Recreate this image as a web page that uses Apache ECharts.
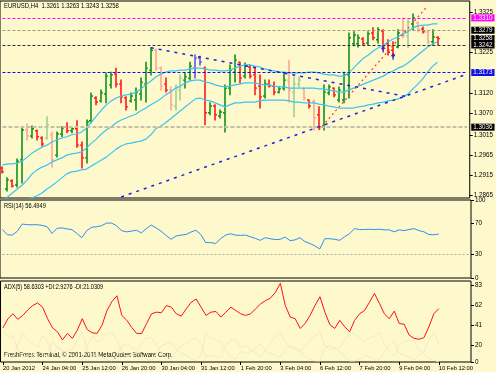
<!DOCTYPE html>
<html>
<head>
<meta charset="utf-8">
<script src="https://cdn.jsdelivr.net/npm/echarts@6/dist/echarts.min.js"></script>
<style>
html,body{margin:0;padding:0;background:#fdf9cd;}
#c{width:496px;height:372px;}
</style>
</head>
<body>
<div id="c"></div>
<script>
// ---- x axis ----
const tickLabels = ['20 Jan 2012','24 Jan 04:00','25 Jan 12:00','26 Jan 20:00','30 Jan 04:00','31 Jan 12:00',
  '1 Feb 20:00','3 Feb 04:00','6 Feb 12:00','7 Feb 20:00','9 Feb 04:00','10 Feb 12:00'];
const labelStep = 8;
const barSlots = 95; // 89 bars + right shift

// ---- EURUSD H4 OHLC ----
const open = [1.2934,1.2881,1.2901,1.2891,1.2954,1.3029,1.3014,1.3027,1.3009,1.3009,
1.3017,1.2966,1.3019,1.3037,1.3027,1.3032,1.2991,1.2959,1.3052,1.3109,
1.3102,1.3119,1.3142,1.3169,1.3144,1.3109,1.3102,1.3104,1.3119,1.3144,
1.3179,1.3229,1.3184,1.3144,1.3129,1.3089,1.3129,1.3154,1.3159,1.3184,
1.3209,1.3184,1.3072,1.3089,1.3064,1.3072,1.3134,1.3174,1.3199,1.3164,
1.3187,1.3167,1.3139,1.3114,1.3144,1.3139,1.3124,1.3134,1.3154,1.3124,
1.3144,1.3132,1.3104,1.3099,1.3067,1.3037,1.3122,1.3134,1.3104,1.3104,
1.3167,1.3245,1.3245,1.3257,1.3247,1.3272,1.3255,1.3277,1.3245,1.3229,
1.3237,1.3280,1.3265,1.3295,1.3297,1.3282,1.3275,1.3250,1.3261];
const high = [1.2936,1.2909,1.2904,1.2956,1.3034,1.3044,1.3039,1.3029,1.3012,1.3062,
1.3024,1.3024,1.3037,1.3047,1.3034,1.3052,1.2999,1.3054,1.3122,1.3112,
1.3129,1.3172,1.3174,1.3184,1.3154,1.3112,1.3122,1.3134,1.3159,1.3199,
1.3235,1.3232,1.3187,1.3159,1.3137,1.3142,1.3167,1.3172,1.3199,1.3217,
1.3214,1.3187,1.3097,1.3092,1.3079,1.3142,1.3192,1.3217,1.3199,1.3197,
1.3192,1.3187,1.3167,1.3154,1.3154,1.3149,1.3137,1.3172,1.3204,1.3162,
1.3162,1.3134,1.3104,1.3104,1.3087,1.3142,1.3142,1.3134,1.3137,1.3174,
1.3272,1.3275,1.3267,1.3260,1.3275,1.3285,1.3285,1.3280,1.3255,1.3250,
1.3280,1.3310,1.3305,1.3320,1.3300,1.3287,1.3277,1.3280,1.3263];
const low = [1.2921,1.2876,1.2886,1.2886,1.2896,1.3004,1.3009,1.3004,1.2989,1.3006,
1.2936,1.2961,1.3012,1.3022,1.3022,1.2986,1.2934,1.2946,1.3047,1.3092,
1.3099,1.3097,1.3134,1.3137,1.3097,1.3079,1.3099,1.3079,1.3104,1.3099,
1.3167,1.3179,1.3129,1.3124,1.3079,1.3079,1.3104,1.3134,1.3154,1.3159,
1.3192,1.3042,1.3067,1.3054,1.3059,1.3024,1.3117,1.3149,1.3147,1.3159,
1.3159,1.3117,1.3084,1.3109,1.3137,1.3117,1.3122,1.3129,1.3099,1.3062,
1.3137,1.3104,1.3084,1.3029,1.3032,1.3029,1.3117,1.3112,1.3099,1.3097,
1.3109,1.3240,1.3237,1.3242,1.3242,1.3255,1.3247,1.3229,1.3217,1.3212,
1.3235,1.3260,1.3235,1.3280,1.3275,1.3272,1.3245,1.3242,1.3243];
const close = [1.2924,1.2904,1.2889,1.2951,1.3029,1.3014,1.3032,1.3012,1.2994,1.3042,
1.2954,1.3019,1.3034,1.3027,1.3032,1.2991,1.2959,1.3049,1.3114,1.3099,
1.3122,1.3164,1.3167,1.3144,1.3112,1.3087,1.3114,1.3124,1.3149,1.3184,
1.3229,1.3184,1.3139,1.3129,1.3092,1.3134,1.3159,1.3162,1.3189,1.3209,
1.3199,1.3072,1.3089,1.3067,1.3074,1.3134,1.3179,1.3204,1.3159,1.3189,
1.3164,1.3134,1.3112,1.3144,1.3139,1.3124,1.3132,1.3154,1.3129,1.3144,
1.3154,1.3109,1.3089,1.3059,1.3037,1.3124,1.3137,1.3117,1.3129,1.3167,
1.3260,1.3267,1.3260,1.3245,1.3270,1.3260,1.3280,1.3240,1.3224,1.3217,
1.3272,1.3265,1.3300,1.3310,1.3280,1.3275,1.3250,1.3262,1.3258];

// bars drawn in pale / blue colour in the terminal (style lists, by bar index)
const paleBars = [5, 9, 10, 31, 32, 34, 35, 36, 58, 59, 60, 61, 63, 81, 82, 84, 86];
const blueBars = [39, 40];

// ---- bands (upper / middle / lower) ----
const bandUpper = [1.2941,1.2944,1.2944,1.2946,1.2951,1.2961,1.2971,1.2979,1.2986,1.2991,
1.2999,1.3004,1.3009,1.3012,1.3017,1.3019,1.3024,1.3034,1.3049,1.3064,
1.3079,1.3092,1.3102,1.3109,1.3114,1.3117,1.3119,1.3124,1.3132,1.3142,
1.3152,1.3162,1.3169,1.3174,1.3177,1.3177,1.3179,1.3179,1.3182,1.3184,
1.3184,1.3182,1.3179,1.3179,1.3177,1.3177,1.3179,1.3184,1.3189,1.3192,
1.3192,1.3189,1.3187,1.3182,1.3179,1.3177,1.3174,1.3174,1.3172,1.3172,
1.3172,1.3172,1.3174,1.3174,1.3172,1.3169,1.3167,1.3167,1.3164,1.3164,
1.3172,1.3184,1.3197,1.3209,1.3217,1.3227,1.3235,1.3242,1.3250,1.3257,
1.3262,1.3270,1.3275,1.3285,1.3290,1.3292,1.3292,1.3295,1.3295];
const bandMiddle = [1.2851,1.2861,1.2871,1.2881,1.2891,1.2904,1.2919,1.2929,1.2936,1.2941,
1.2949,1.2954,1.2959,1.2966,1.2969,1.2971,1.2974,1.2984,1.2996,1.3006,
1.3019,1.3029,1.3037,1.3047,1.3054,1.3059,1.3064,1.3069,1.3077,1.3084,
1.3092,1.3099,1.3107,1.3117,1.3124,1.3134,1.3139,1.3147,1.3152,1.3154,
1.3154,1.3149,1.3147,1.3142,1.3139,1.3137,1.3139,1.3142,1.3144,1.3147,
1.3147,1.3147,1.3144,1.3142,1.3142,1.3139,1.3137,1.3137,1.3134,1.3134,
1.3134,1.3134,1.3134,1.3134,1.3132,1.3132,1.3129,1.3127,1.3124,1.3124,
1.3129,1.3134,1.3139,1.3144,1.3149,1.3154,1.3159,1.3164,1.3172,1.3177,
1.3184,1.3189,1.3197,1.3207,1.3217,1.3227,1.3237,1.3245,1.3250];
const bandLower = [1.2816,1.2826,1.2836,1.2844,1.2849,1.2854,1.2859,1.2864,1.2871,1.2881,
1.2889,1.2899,1.2909,1.2919,1.2924,1.2926,1.2929,1.2931,1.2939,1.2946,
1.2954,1.2961,1.2971,1.2981,1.2989,1.2994,1.2996,1.2999,1.3001,1.3006,
1.3017,1.3032,1.3039,1.3047,1.3057,1.3067,1.3077,1.3087,1.3097,1.3107,
1.3109,1.3104,1.3102,1.3097,1.3092,1.3087,1.3092,1.3097,1.3097,1.3099,
1.3099,1.3099,1.3102,1.3104,1.3104,1.3104,1.3104,1.3104,1.3102,1.3099,
1.3099,1.3097,1.3097,1.3097,1.3094,1.3092,1.3089,1.3087,1.3084,1.3084,
1.3084,1.3084,1.3087,1.3089,1.3092,1.3094,1.3097,1.3099,1.3102,1.3104,
1.3107,1.3112,1.3119,1.3132,1.3144,1.3157,1.3174,1.3189,1.3199];

// ---- horizontal levels, trend lines and arrows (bar index, price) ----
const levelMagenta = 1.3310;
const levelGrayTop = 1.3279;
const levelBid = 1.3258;
const levelBlack = 1.3242;
const levelBlue = 1.3173;
const levelGrayLow = 1.3036;
const trendUp = [[24, 1.2861], [94, 1.3169]];
const trendDown = [[30, 1.3235], [82, 1.3112]];
const trendRed = [[64, 1.3029], [86, 1.3340]];
const arrowMarks = [[77, 1.3232], [79, 1.3214]];
const priceTicks = [1.2865, 1.2915, 1.2965, 1.3015, 1.3070, 1.3120, 1.3225, 1.3325];

// ---- RSI(14) ----
const rsi = [62.1,55.4,55.0,60.0,69.2,68.3,68.3,68.3,67.5,65.8,
57.1,63.8,64.2,62.9,62.1,57.1,51.7,60.8,65.0,65.8,
67.1,70.4,70.4,67.1,60.8,59.2,60.0,61.3,57.9,63.3,
67.9,64.2,60.0,54.6,49.6,53.8,55.0,55.8,58.8,61.3,
55.8,45.4,45.4,44.2,50.4,55.0,56.7,55.0,54.6,55.0,
52.9,50.8,48.3,51.7,50.4,49.2,49.6,52.5,47.9,48.8,
51.7,46.7,44.2,41.3,37.1,50.4,50.4,49.6,48.3,52.9,
56.7,63.3,62.1,62.1,62.5,62.1,62.5,61.7,61.7,59.2,
61.7,60.8,62.1,63.3,60.8,59.2,55.8,55.4,56.5];
const rsiTicks = [0, 30, 70, 100];

// ---- ADX(5), +DI, -DI ----
const adx = [38.5,48.1,53.2,47.4,51.5,57.3,61.8,64.5,60.1,48.1,
38.5,34.4,25.9,32.7,27.6,36.1,48.1,36.8,33.4,32.7,
41.3,56.6,65.9,72.0,51.5,46.4,38.9,32.7,32.7,43.0,
53.2,54.9,54.3,61.8,60.1,53.2,50.8,58.4,65.2,68.6,
60.1,51.5,54.9,55.6,49.8,54.9,60.1,56.6,53.2,51.5,
53.2,58.4,63.5,66.9,69.6,75.5,85.0,61.8,49.8,48.1,
37.9,43.0,51.5,61.8,71.0,54.9,41.9,37.9,46.4,39.6,
34.4,46.4,53.2,56.6,65.2,74.4,64.2,53.2,48.1,56.0,
43.0,42.3,31.0,27.6,26.6,28.3,39.6,53.2,58.6];
const plusDI = [8,12,6,22,34,26,22,18,30,24,
10,18,16,12,10,8,5,20,30,24,
26,32,34,26,14,8,10,14,22,28,
28,20,12,8,6,14,20,22,26,28,
22,8,10,8,8,20,26,26,18,20,
16,12,8,16,22,30,34,24,18,16,
14,8,6,4,4,18,20,16,18,26,
34,32,28,24,28,30,34,22,14,10,
20,24,26,25,16,12,6,5,2.93];
const minusDI = [34,30,30,16,8,10,10,14,12,8,
25,18,14,14,16,26,34,16,8,10,
8,5,4,10,20,22,18,16,10,6,
4,12,20,22,24,16,12,10,6,4,
10,34,28,26,24,14,8,6,14,12,
14,18,22,14,12,10,8,16,20,18,
14,20,26,30,34,20,16,18,14,8,
4,4,6,10,8,6,5,14,20,24,
12,10,8,5,10,14,26,34,21.03];
const adxTicks = [2.9, 20, 41, 62, 83];

// ---------------------------------------------------------------
const FONT = '"Liberation Sans",Arial,sans-serif';
const cats = [];
for (let i = 0; i < barSlots; i++) cats.push(String(i));
const lastSlot = barSlots - 1;
const showTick = (idx) => idx % labelStep === 0 && idx / labelStep < tickLabels.length;

const ohlcData = open.map((o, i) => [i, o, high[i], low[i], close[i]]);

function barColor(i, up) {
  if (blueBars.indexOf(i) >= 0) return '#5a5ae6';
  if (paleBars.indexOf(i) >= 0) return up ? '#9fd28a' : '#f7a898';
  return up ? '#12901a' : '#ff1a1a';
}

function renderOHLC(params, api) {
  const i = api.value(0);
  const o = api.coord([i, api.value(1)]);
  const h = api.coord([i, api.value(2)]);
  const l = api.coord([i, api.value(3)]);
  const c = api.coord([i, api.value(4)]);
  const x = Math.round(o[0]);
  const col = barColor(i, api.value(4) >= api.value(1));
  return {
    type: 'group',
    children: [
      {type: 'line', shape: {x1: x, y1: h[1] - 0.5, x2: x, y2: l[1] + 0.5}, style: {stroke: col, lineWidth: 1.6}},
      {type: 'line', shape: {x1: x - 2, y1: o[1], x2: x, y2: o[1]}, style: {stroke: col, lineWidth: 1.4}},
      {type: 'line', shape: {x1: x, y1: c[1], x2: x + 2, y2: c[1]}, style: {stroke: col, lineWidth: 1.4}}
    ]
  };
}

function xAxisDef(gridIndex, showLabels) {
  return {
    type: 'category', gridIndex, data: cats, boundaryGap: true,
    axisLine: {show: false},
    axisTick: {show: showLabels, interval: (idx) => showTick(idx), alignWithLabel: true, length: 3,
      lineStyle: {color: '#000'}},
    axisLabel: {show: showLabels, interval: (idx) => showTick(idx), align: 'left', margin: 3,
      fontSize: 5.8, fontFamily: FONT, color: '#000',
      formatter: (v, idx) => tickLabels[idx / labelStep] || ''},
    splitLine: {show: false}
  };
}

function yAxisDef(gridIndex, min, max, ticks, fmt) {
  return {
    type: 'value', gridIndex, position: 'right', min, max,
    axisLine: {show: false},
    axisTick: {show: true, customValues: ticks, length: 3, inside: false, lineStyle: {color: '#000'}},
    axisLabel: {show: true, customValues: ticks, formatter: fmt, margin: 4, fontSize: 6.3,
      fontFamily: FONT, color: '#000'},
    splitLine: {show: false}
  };
}

// horizontal level drawn between the first and last slot of the x axis
function levelLine(value, color, type, width, boxColor) {
  return [
    {coord: [0, value], lineStyle: {color, type, width},
      label: {show: true, position: 'end', distance: 4, formatter: value.toFixed(4),
        backgroundColor: boxColor, color: '#fff', padding: [1, 2, 0, 2], fontSize: 6.3, fontFamily: FONT}},
    {coord: [lastSlot, value]}
  ];
}

function trend(pts, color, type, width) {
  return [
    {coord: pts[0], lineStyle: {color, type, width}, label: {show: false}},
    {coord: pts[1]}
  ];
}

function caption(text, x, y, size, sx) {
  return {type: 'text', x, y, scaleX: sx, silent: true,
    style: {text, fill: '#000', font: size + 'px ' + FONT, verticalAlign: 'top'}};
}

const bandStyle = {color: '#3cc4f2', width: 1.2};

const chart = echarts.init(document.getElementById('c'), null, {renderer: 'canvas'});
chart.setOption({
  animation: false,
  backgroundColor: '#fdf9cd',
  grid: [
    {left: 0, top: 1, width: 471, height: 197, show: true, borderColor: '#000', borderWidth: 1, backgroundColor: 'transparent'},
    {left: 0, top: 200, width: 471, height: 78, show: true, borderColor: '#000', borderWidth: 1, backgroundColor: 'transparent'},
    {left: 0, top: 281, width: 471, height: 81, show: true, borderColor: '#000', borderWidth: 1, backgroundColor: 'transparent'}
  ],
  xAxis: [xAxisDef(0, false), xAxisDef(1, false), xAxisDef(2, true)],
  yAxis: [
    yAxisDef(0, 1.28585, 1.33523, priceTicks, (v) => v.toFixed(4)),
    yAxisDef(1, 0, 100, rsiTicks, (v) => String(v)),
    yAxisDef(2, 2.9, 87.4, adxTicks, (v) => v < 5 ? '0' : String(Math.round(v)))
  ],
  graphic: [
    caption('EURUSD,H4  1.3261 1.3263 1.3243 1.3258', 4, 2, 8, 0.74),
    caption('RSI(14) 56.4949', 4, 202, 7.5, 0.76),
    caption('ADX(5) 58.6303 +DI:2.9276 -DI:21.0309', 4, 283, 7.5, 0.74),
    caption('FreshForex Terminal, © 2001-2011 MetaQuotes Software Corp.', 4, 351, 7.5, 0.8)
  ],
  series: [
    {
      name: 'levels', type: 'line', xAxisIndex: 0, yAxisIndex: 0, data: [], silent: true,
      markLine: {
        silent: true, symbol: ['none', 'none'], animation: false,
        data: [
          levelLine(levelGrayLow, '#c4c2a6', [4, 2], 2, '#000'),
          levelLine(levelBlue, '#1010e0', [3, 2], 1.2, '#1010e8'),
          levelLine(levelBlack, '#303030', [3, 2], 1, '#000'),
          levelLine(levelBid, 'rgba(0,0,0,0)', 'solid', 1, '#000'),
          levelLine(levelGrayTop, '#9c9a78', [3, 2], 1, '#000'),
          levelLine(levelMagenta, '#ff00ff', [3, 2], 1, '#ff00ff'),
          trend(trendUp, '#2222d8', [3, 5], 1.5),
          trend(trendDown, '#2222d8', [3, 5], 1.5),
          trend(trendRed, '#ff3030', [2, 3], 1.2)
        ]
      }
    },
    {name: 'upper', type: 'line', xAxisIndex: 0, yAxisIndex: 0, data: bandUpper, symbol: 'none', lineStyle: bandStyle, silent: true, clip: true},
    {name: 'middle', type: 'line', xAxisIndex: 0, yAxisIndex: 0, data: bandMiddle, symbol: 'none', lineStyle: bandStyle, silent: true, clip: true},
    {name: 'lower', type: 'line', xAxisIndex: 0, yAxisIndex: 0, data: bandLower, symbol: 'none', lineStyle: bandStyle, silent: true, clip: true},
    {
      name: 'EURUSD', type: 'custom', xAxisIndex: 0, yAxisIndex: 0, data: ohlcData,
      renderItem: renderOHLC, encode: {x: 0, y: [1, 2, 3, 4]}, clip: true, silent: true
    },
    {
      name: 'arrows', type: 'scatter', xAxisIndex: 0, yAxisIndex: 0, data: arrowMarks, silent: true,
      symbol: 'path://M5,0 L10,6 L6.5,6 L6.5,12 L3.5,12 L3.5,6 L0,6 Z', symbolSize: [5, 7],
      itemStyle: {color: '#1a1ae0'}
    },
    {
      name: 'RSI', type: 'line', xAxisIndex: 1, yAxisIndex: 1, data: rsi, symbol: 'none', silent: true,
      lineStyle: {color: '#2f8ff0', width: 1},
      markLine: {silent: true, symbol: ['none', 'none'], label: {show: false},
        data: [[{coord: [0, 30], lineStyle: {color: '#a8a8a0', type: [2, 2], width: 1}}, {coord: [lastSlot, 30]}]]}
    },
    {name: '+DI', type: 'line', xAxisIndex: 2, yAxisIndex: 2, data: plusDI, symbol: 'none', silent: true,
      lineStyle: {color: '#f7e8c6', width: 1}},
    {name: '-DI', type: 'line', xAxisIndex: 2, yAxisIndex: 2, data: minusDI, symbol: 'none', silent: true,
      lineStyle: {color: '#f7e6c8', width: 1}},
    {name: 'ADX', type: 'line', xAxisIndex: 2, yAxisIndex: 2, data: adx, symbol: 'none', silent: true,
      lineStyle: {color: '#ff1010', width: 1}}
  ]
});
</script>
</body>
</html>
